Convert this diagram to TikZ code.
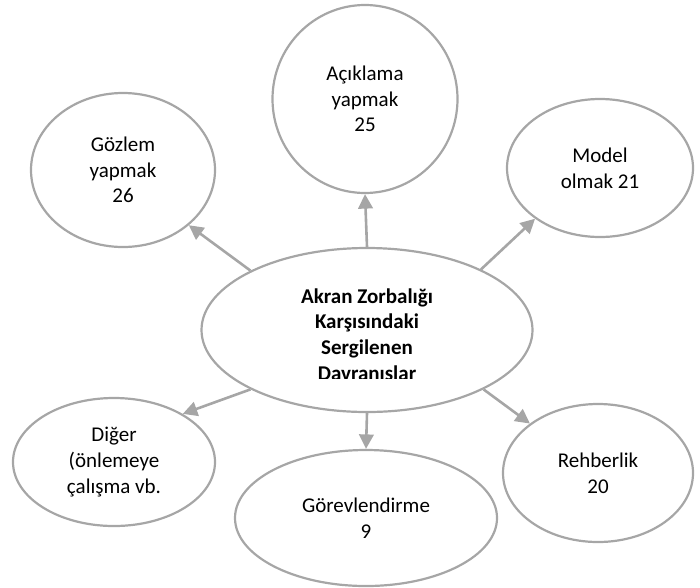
\documentclass[tikz,border=0pt]{standalone}
\usepackage{fontspec}
\setmainfont{Carlito}
\usetikzlibrary{arrows.meta,shapes.geometric}
\definecolor{lg}{RGB}{166,166,166}
\begin{document}
\begin{tikzpicture}[x=1pt,y=-1pt,
  bub/.style={ellipse,draw=lg,line width=2.2pt,inner sep=0pt,align=center,
    font=\fontsize{21}{25.7}\selectfont,text=black},
  arr/.style={draw=lg,line width=2.6pt,-{Triangle[length=14.5pt,width=14.5pt]}}]
\useasboundingbox (0,0) rectangle (700,587);
\node[bub,minimum width=184pt,minimum height=154pt] (g) at (123,170) {Gözlem\\yapmak\\26};
\node[bub,minimum width=185pt,minimum height=188pt] (a) at (365,99) {Açıklama\\yapmak\\25};
\node[bub,minimum width=186pt,minimum height=138pt] (m) at (600,168) {Model\\olmak 21};
\node[bub,minimum width=331pt,minimum height=164pt] (c) at (367,330) {};
\node[bub,minimum width=202pt,minimum height=128pt] (d) at (114,462) {Diğer\\(önlemeye\\çalışma vb.};
\node[bub,minimum width=262pt,minimum height=136pt] (gv) at (366,518) {Görevlendirme\\9};
\node[bub,minimum width=190pt,minimum height=138pt] (r) at (598,473) {Rehberlik\\20};
\begin{scope}
\clip (200,250) rectangle (540,378);
\node[align=center,font=\bfseries\fontsize{21}{25.7}\selectfont,inner sep=0pt] (ct) at (367,336)
  {Akran Zorbalığı\\Karşısındaki\\Sergilenen\\Davranışlar};
\end{scope}
\draw[arr] (c.153) -- (g.320);
\draw[arr] (c.90) -- (a.270);
\draw[arr] (c.28) -- (m.218);
\draw[arr] (c.207) -- (d.35);
\draw[arr] (c.270) -- (gv.90);
\draw[arr] (c.333) -- (r.144);
\end{tikzpicture}
\end{document}
